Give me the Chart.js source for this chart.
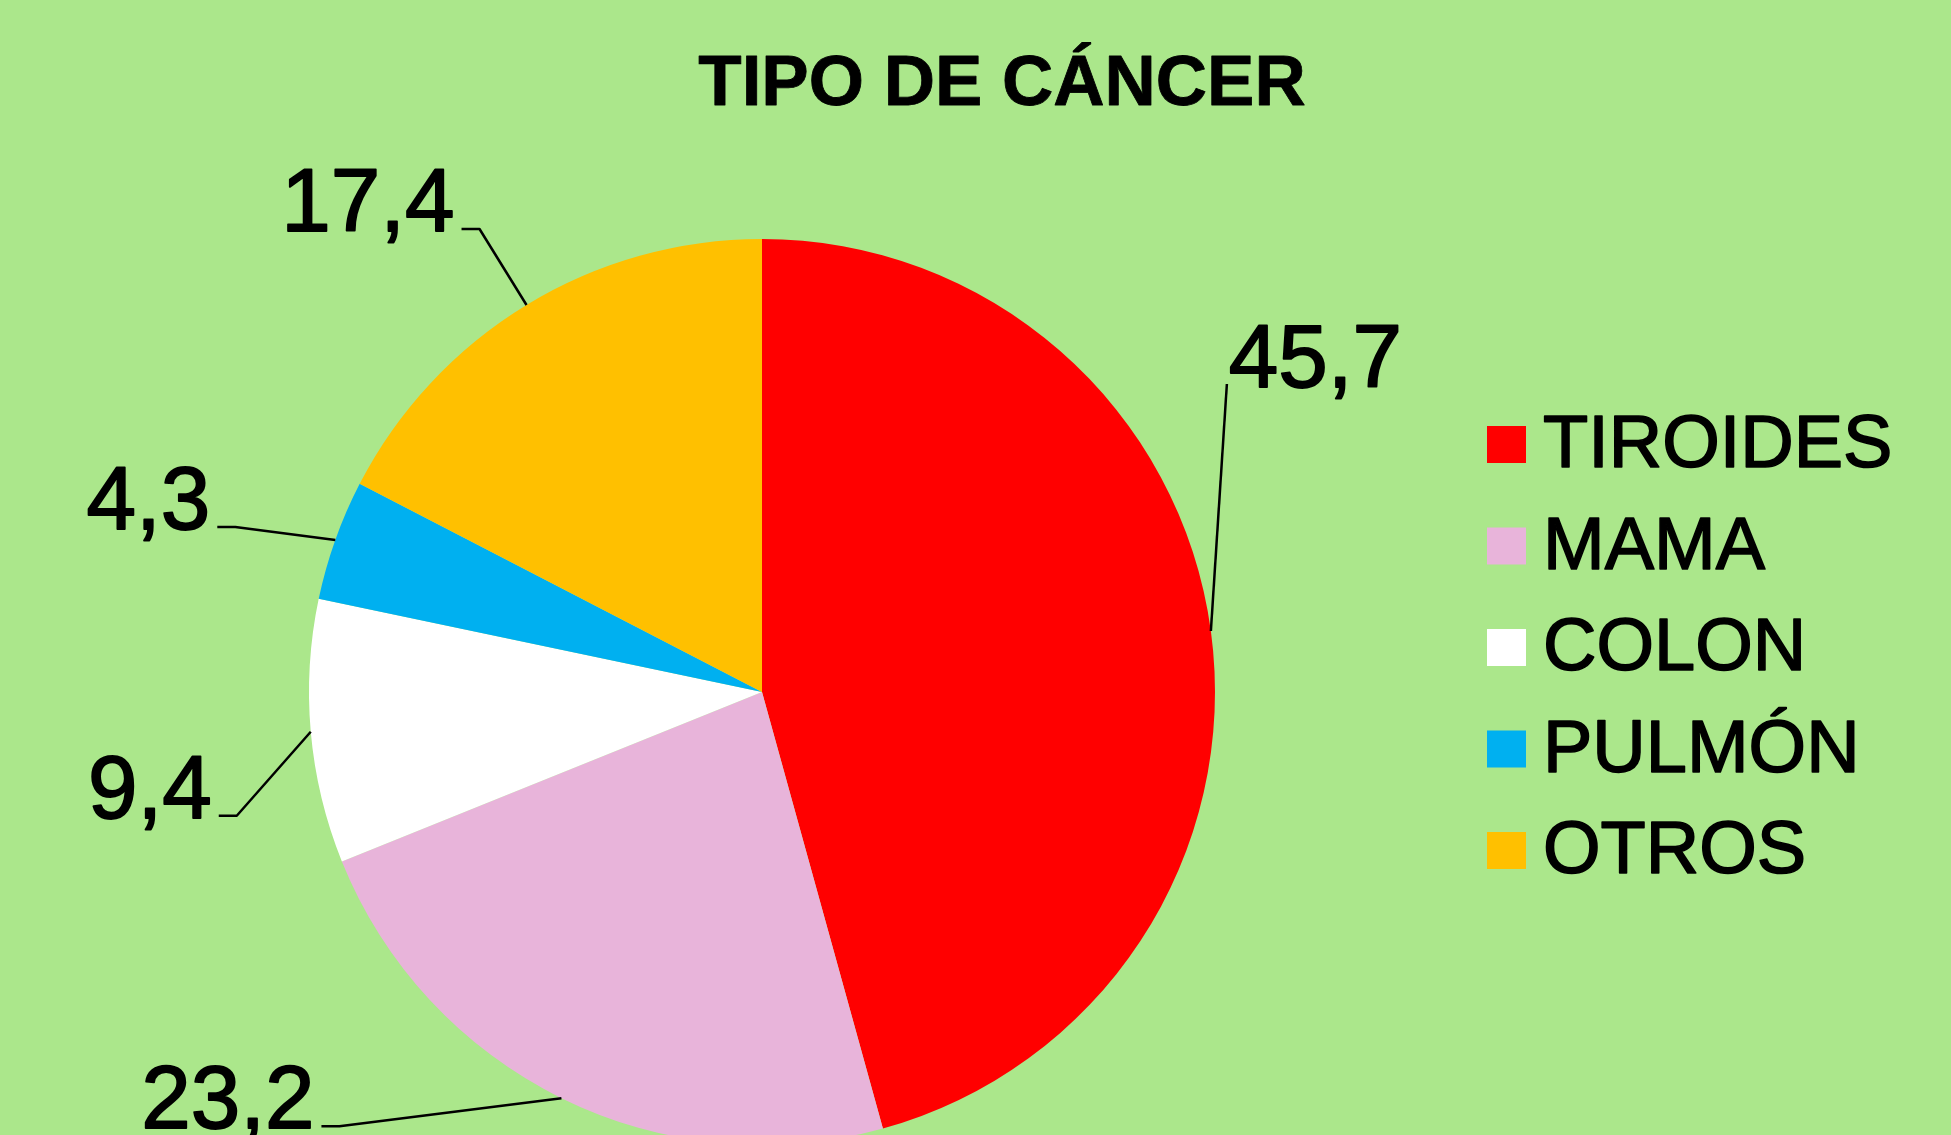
<!DOCTYPE html>
<html>
<head>
<meta charset="utf-8">
<title>Tipo de cáncer</title>
<script src="https://cdn.jsdelivr.net/npm/chart.js@4/dist/chart.umd.min.js"></script>
<style>
  html, body { margin: 0; padding: 0; overflow: hidden; background: #abe78b; }
  canvas { display: block; }
</style>
</head>
<body>
<canvas id="myChart" width="1951" height="1200"></canvas>
<script>
const chartTitle = 'TIPO DE CÁNCER';
const categories = ['TIROIDES', 'MAMA', 'COLON', 'PULMÓN', 'OTROS'];
const values = [45.7, 23.2, 9.4, 4.3, 17.4];
const colors = ['#ff0000', '#e8b4da', '#ffffff', '#00b0f0', '#ffc000'];

// where each leader line bends, relative to the slice's outer midpoint
const labelOffsets = [[16, -247], [-222, 28], [-74, 84], [-100, -13], [-47, -76]];

const FONT = '"Liberation Sans", Arial, sans-serif';

function fmt(v) {
  return v.toFixed(1).replace('.', ',');
}

// text a bit heavier, like the original export
function heavyText(ctx, txt, x, y) {
  ctx.fillText(txt, x, y);
  ctx.strokeText(txt, x, y);
}

// title, legend and data labels drawn by hand so the pie keeps its place
const decorations = {
  id: 'decorations',
  afterDraw(chart) {
    const ctx = chart.ctx;
    ctx.save();
    ctx.fillStyle = '#000';
    ctx.strokeStyle = '#000';
    ctx.lineJoin = 'round';

    // title
    ctx.font = 'bold 71px ' + FONT;
    ctx.textAlign = 'center';
    ctx.textBaseline = 'alphabetic';
    ctx.lineWidth = 0.8;
    heavyText(ctx, chartTitle, 1002, 105);

    // legend
    ctx.font = '74px ' + FONT;
    ctx.textAlign = 'left';
    ctx.lineWidth = 1.6;
    chart.data.labels.forEach((label, i) => {
      const base = 467 + i * 101.5;
      ctx.fillStyle = chart.data.datasets[0].backgroundColor[i];
      ctx.fillRect(1487, base - 41, 39, 37);
      ctx.fillStyle = '#000';
      heavyText(ctx, label, 1543, base);
    });

    // data labels with leader lines
    const meta = chart.getDatasetMeta(0);
    ctx.font = '89px ' + FONT;
    meta.data.forEach((arc, i) => {
      const p = arc.getProps(['x', 'y', 'startAngle', 'endAngle', 'outerRadius'], true);
      const mid = (p.startAngle + p.endAngle) / 2;
      const ax = p.x + Math.cos(mid) * p.outerRadius;
      const ay = p.y + Math.sin(mid) * p.outerRadius;
      const bx = ax + labelOffsets[i][0];
      const by = ay + labelOffsets[i][1];
      const txt = fmt(chart.data.datasets[0].data[i]);

      ctx.lineWidth = 2.5;
      ctx.beginPath();
      ctx.moveTo(ax, ay);
      ctx.lineTo(bx, by);
      if (bx < ax) {
        ctx.lineTo(bx - 18, by);
        ctx.stroke();
        ctx.textAlign = 'right';
        ctx.lineWidth = 1.8;
        heavyText(ctx, txt, bx - 25, by + 2);
      } else {
        ctx.stroke();
        ctx.textAlign = 'left';
        ctx.lineWidth = 1.8;
        heavyText(ctx, txt, bx + 2, by + 3);
      }
    });
    ctx.restore();
  }
};

const ctx = document.getElementById('myChart').getContext('2d');
const myChart = new Chart(ctx, {
  type: 'pie',
  data: {
    labels: categories,
    datasets: [{
      data: values,
      backgroundColor: colors,
      borderWidth: 0
    }]
  },
  options: {
    responsive: false,
    animation: false,
    layout: {
      padding: { left: 309, right: 736, top: 239, bottom: 55 }
    },
    plugins: {
      legend: { display: false },
      title: { display: false },
      tooltip: { enabled: false }
    }
  },
  plugins: [decorations]
});
</script>
</body>
</html>
